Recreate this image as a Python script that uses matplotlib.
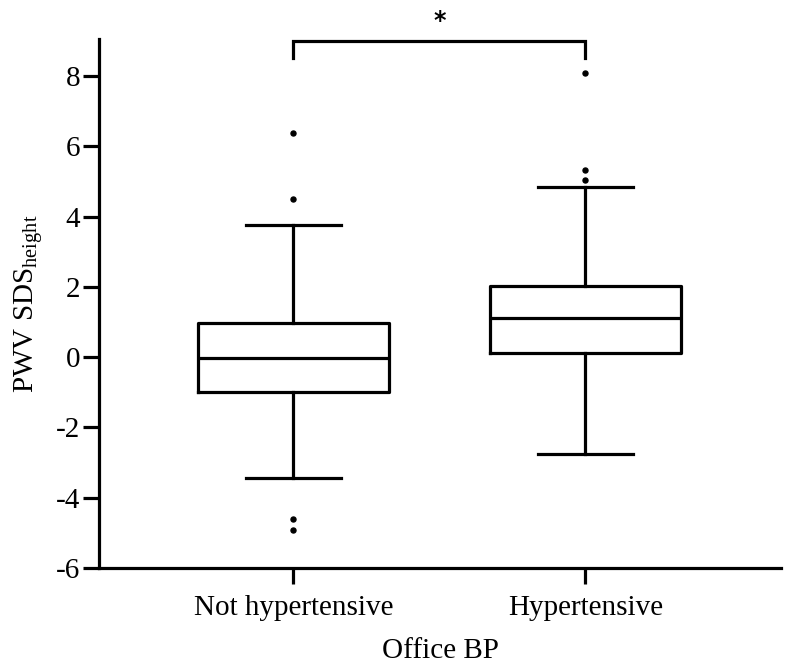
import numpy as np
import matplotlib
matplotlib.use('Agg')
import matplotlib.pyplot as plt

plt.rcParams['font.family'] = ['Liberation Serif', 'DejaVu Serif']
plt.rcParams['mathtext.fontset'] = 'custom'
plt.rcParams['mathtext.rm'] = 'Liberation Serif'
plt.rcParams['axes.unicode_minus'] = False

# box summary per group
groups = ['Not hypertensive', 'Hypertensive']
q1 = [-0.99, 0.11]
med = [-0.02, 1.10]
q3 = [0.98, 2.02]
whislo = [-3.45, -2.77]
whishi = [3.77, 4.83]
fliers = [[6.38, 4.50, -4.60, -4.93], [8.09, 5.32, 5.05]]
sig_label = '*'

def main():
    fig = plt.figure(figsize=(7.86, 6.72), dpi=100)
    W, H = 786, 672
    ax = fig.add_axes([99 / W, (H - 568) / H, (781 - 99) / W, (568 - 39) / H])

    stats = []
    for i in range(len(groups)):
        stats.append(dict(label=groups[i], q1=q1[i], med=med[i], q3=q3[i],
                          whislo=whislo[i], whishi=whishi[i],
                          fliers=np.array(fliers[i])))

    lw = 2.3
    ax.bxp(stats, positions=[0, 1], widths=0.655, showfliers=True,
           boxprops=dict(color='black', linewidth=lw),
           medianprops=dict(color='black', linewidth=lw),
           whiskerprops=dict(color='black', linewidth=lw),
           capprops=dict(color='black', linewidth=lw),
           capwidths=0.325,
           flierprops=dict(marker='o', markersize=3.6, markerfacecolor='black',
                           markeredgecolor='black'))

    ax.set_xlim(-0.666, 1.67)
    ax.set_ylim(-6, 9.05)
    ax.set_yticks(np.arange(-6, 9, 2))
    ax.set_xticks([0, 1])
    ax.set_xticklabels(groups)

    for s in ['top', 'right']:
        ax.spines[s].set_visible(False)
    for s in ['left', 'bottom']:
        ax.spines[s].set_linewidth(lw)
    ax.tick_params(axis='both', width=lw, length=11.5, labelsize=21)
    ax.tick_params(axis='y', pad=2)
    ax.tick_params(axis='x', pad=8)

    ax.set_xlabel('Office BP', fontsize=21, labelpad=12)
    ax.set_ylabel(r'PWV SDS$_{\mathrm{height}}$', fontsize=21, labelpad=7)

    # significance bracket
    ytop = 8.98
    ax.plot([0, 0, 1, 1], [8.5, ytop, ytop, 8.5], color='black', lw=lw,
            clip_on=False, solid_joinstyle='miter')
    ax.text(0.5, 9.55, sig_label, ha='center', va='center', fontsize=17,
            fontweight='bold', family='DejaVu Sans')

    fig.savefig('out.png', dpi=100)

if __name__ == '__main__':
    main()
